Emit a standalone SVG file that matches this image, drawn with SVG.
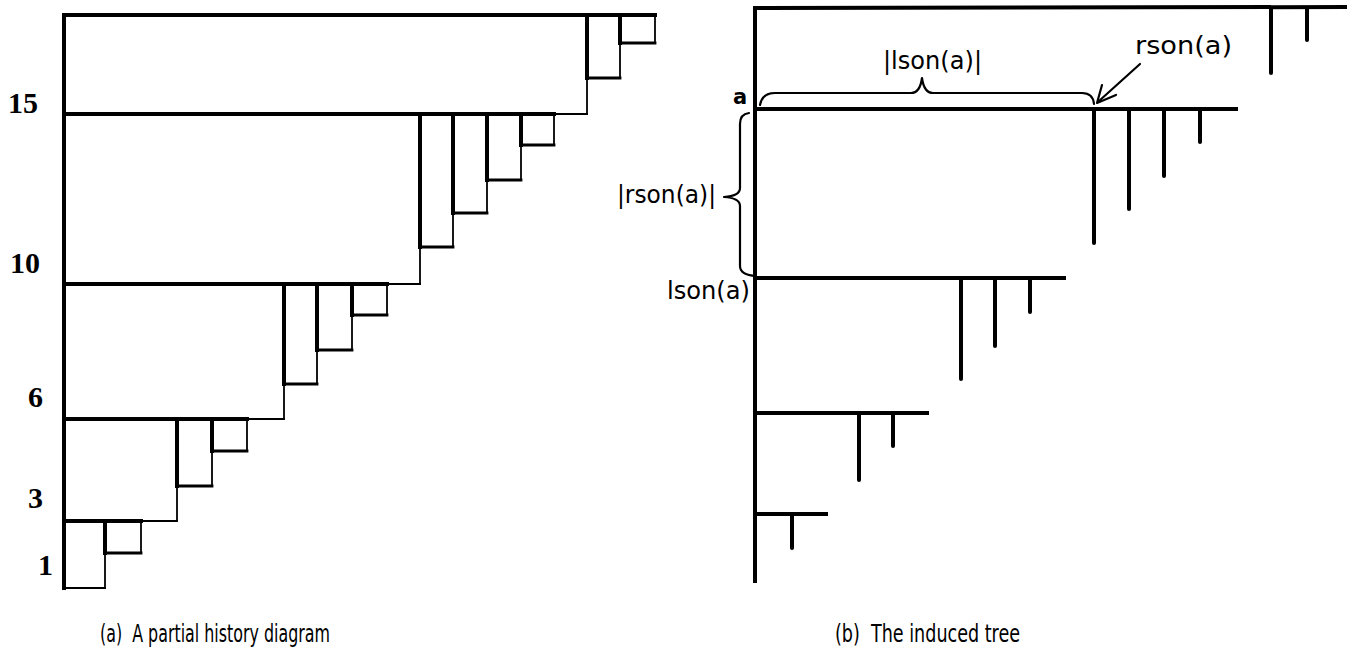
<svg xmlns="http://www.w3.org/2000/svg" width="1355" height="654" viewBox="0 0 1355 654">
<style>
.bg{fill:#fff}
.tk{stroke:#000;stroke-width:4;fill:none;stroke-linecap:square}
.md{stroke:#000;stroke-width:2.8;fill:none;stroke-linecap:square}
.th{stroke:#000;stroke-width:1.8;fill:none;stroke-linecap:square}
.tr{stroke:#000;stroke-width:4;fill:none;stroke-linecap:round}
.br{stroke:#000;stroke-width:2.2;fill:none;stroke-linecap:round;stroke-linejoin:round}
.num{font-family:"Liberation Serif",serif;font-size:30px;font-weight:bold;fill:#000}
.lbl{font-family:"DejaVu Sans",sans-serif;font-size:25px;fill:#000}
.sm{font-family:"DejaVu Sans",sans-serif;font-size:21px;font-weight:bold;fill:#000}
.cap{font-family:"DejaVu Sans Condensed","DejaVu Sans",sans-serif;font-size:24px;fill:#000;white-space:pre}
</style>
<rect class="bg" x="0" y="0" width="1355" height="654"/>

<!-- (a) partial history diagram -->
<g id="a-frame">
  <line class="tk" x1="64" y1="15" x2="64" y2="588"/>
  <line class="th" x1="64" y1="588" x2="105" y2="588"/>
</g>
<g id="a-row-top">
  <line class="tk" x1="64" y1="15" x2="655" y2="15"/>
  <line class="th" x1="587" y1="78" x2="587" y2="114"/>
  <line class="tk" x1="587" y1="15" x2="587" y2="78"/>
  <line class="md" x1="587" y1="78" x2="620" y2="78"/>
  <line class="tk" x1="620" y1="15" x2="620" y2="43"/>
  <line class="th" x1="620" y1="43" x2="620" y2="78"/>
  <line class="md" x1="620" y1="43" x2="655" y2="43"/>
  <line class="th" x1="655" y1="15" x2="655" y2="43"/>
</g>
<g id="a-row-15">
  <line class="th" x1="554" y1="114" x2="587" y2="114"/>
  <line class="tk" x1="64" y1="114" x2="554" y2="114"/>
  <line class="th" x1="420" y1="247" x2="420" y2="284"/>
  <line class="tk" x1="420" y1="114" x2="420" y2="247"/>
  <line class="md" x1="420" y1="247" x2="453" y2="247"/>
  <line class="th" x1="453" y1="213" x2="453" y2="247"/>
  <line class="tk" x1="453" y1="114" x2="453" y2="213"/>
  <line class="md" x1="453" y1="213" x2="487" y2="213"/>
  <line class="th" x1="487" y1="180" x2="487" y2="213"/>
  <line class="tk" x1="487" y1="114" x2="487" y2="180"/>
  <line class="md" x1="487" y1="180" x2="521" y2="180"/>
  <line class="th" x1="521" y1="145" x2="521" y2="180"/>
  <line class="tk" x1="521" y1="114" x2="521" y2="145"/>
  <line class="md" x1="521" y1="145" x2="554" y2="145"/>
  <line class="th" x1="554" y1="114" x2="554" y2="145"/>
</g>
<g id="a-row-10">
  <line class="th" x1="387" y1="284" x2="420" y2="284"/>
  <line class="tk" x1="64" y1="284" x2="387" y2="284"/>
  <line class="th" x1="284" y1="384" x2="284" y2="419"/>
  <line class="tk" x1="284" y1="284" x2="284" y2="384"/>
  <line class="md" x1="284" y1="384" x2="317" y2="384"/>
  <line class="th" x1="317" y1="350" x2="317" y2="384"/>
  <line class="tk" x1="317" y1="284" x2="317" y2="350"/>
  <line class="md" x1="317" y1="350" x2="352" y2="350"/>
  <line class="th" x1="352" y1="315" x2="352" y2="350"/>
  <line class="tk" x1="352" y1="284" x2="352" y2="315"/>
  <line class="md" x1="352" y1="315" x2="387" y2="315"/>
  <line class="th" x1="387" y1="284" x2="387" y2="315"/>
</g>
<g id="a-row-6">
  <line class="th" x1="247" y1="419" x2="284" y2="419"/>
  <line class="tk" x1="64" y1="419" x2="247" y2="419"/>
  <line class="th" x1="177" y1="486" x2="177" y2="521"/>
  <line class="tk" x1="177" y1="419" x2="177" y2="486"/>
  <line class="md" x1="177" y1="486" x2="212" y2="486"/>
  <line class="th" x1="212" y1="451" x2="212" y2="486"/>
  <line class="tk" x1="212" y1="419" x2="212" y2="451"/>
  <line class="md" x1="212" y1="451" x2="247" y2="451"/>
  <line class="th" x1="247" y1="419" x2="247" y2="451"/>
</g>
<g id="a-row-3">
  <line class="th" x1="141" y1="521" x2="177" y2="521"/>
  <line class="tk" x1="64" y1="521" x2="141" y2="521"/>
  <line class="th" x1="105" y1="553" x2="105" y2="588"/>
  <line class="tk" x1="105" y1="521" x2="105" y2="553"/>
  <line class="md" x1="105" y1="553" x2="141" y2="553"/>
  <line class="th" x1="141" y1="521" x2="141" y2="553"/>
</g>
<g id="a-labels">
  <text class="num" x="8" y="113">15</text>
  <text class="num" x="10" y="273">10</text>
  <text class="num" x="28" y="407">6</text>
  <text class="num" x="28" y="508">3</text>
  <text class="num" x="38" y="575">1</text>
</g>

<!-- (b) induced tree -->
<g id="b-root">
  <line class="tk" x1="755" y1="8" x2="755" y2="581"/>
  <line class="tk" x1="755" y1="8" x2="1345" y2="7"/>
  <line class="tr" x1="1271" y1="8" x2="1271" y2="73"/>
  <line class="tr" x1="1307" y1="8" x2="1307" y2="40"/>
</g>
<g id="b-node-a">
  <line class="tk" x1="755" y1="109" x2="1236" y2="109"/>
  <line class="tr" x1="1094" y1="109" x2="1094" y2="243"/>
  <line class="tr" x1="1129" y1="109" x2="1129" y2="209"/>
  <line class="tr" x1="1164" y1="109" x2="1164" y2="176"/>
  <line class="tr" x1="1200" y1="109" x2="1200" y2="142"/>
  <text class="sm" x="733" y="104">a</text>
</g>
<g id="b-node-lson">
  <line class="tk" x1="755" y1="278" x2="1064" y2="278"/>
  <line class="tr" x1="961" y1="278" x2="961" y2="379"/>
  <line class="tr" x1="995" y1="278" x2="995" y2="346"/>
  <line class="tr" x1="1030" y1="278" x2="1030" y2="312"/>
</g>
<g id="b-node-3">
  <line class="tk" x1="755" y1="413" x2="927" y2="413"/>
  <line class="tr" x1="859" y1="413" x2="859" y2="480"/>
  <line class="tr" x1="893" y1="413" x2="893" y2="446"/>
</g>
<g id="b-node-4">
  <line class="tk" x1="755" y1="514" x2="826" y2="514"/>
  <line class="tr" x1="792" y1="514" x2="792" y2="548"/>
</g>
<g id="b-labels">
  <text class="lbl" x="883" y="69" textLength="99" lengthAdjust="spacingAndGlyphs">|lson(a)|</text>
  <text class="lbl" x="1135" y="54" textLength="97" lengthAdjust="spacingAndGlyphs">rson(a)</text>
  <text class="lbl" x="617" y="203" textLength="99" lengthAdjust="spacingAndGlyphs">|rson(a)|</text>
  <text class="lbl" x="667" y="299" textLength="83" lengthAdjust="spacingAndGlyphs">lson(a)</text>
</g>
<g id="connectors">
  <path class="br" d="M760,105 Q762,93 775,93 L911,93 Q920,93 922,78 Q924,93 933,93 L1082,93 Q1093,93 1094,104"/>
  <path class="br" d="M749,113 Q740,114 740,124 L740,188 Q740,196 724,197 Q740,198 740,206 L740,266 Q740,275 756,276"/>
  <line class="br" x1="1140" y1="64" x2="1099" y2="101"/>
  <path class="br" d="M1102,85 L1097,103 L1116,95"/>
</g>

<g id="captions">
  <text class="cap" x="100" y="642" textLength="230" lengthAdjust="spacingAndGlyphs">(a)  A partial history diagram</text>
  <text class="cap" x="835" y="642" textLength="185" lengthAdjust="spacingAndGlyphs">(b)  The induced tree</text>
</g>
</svg>
